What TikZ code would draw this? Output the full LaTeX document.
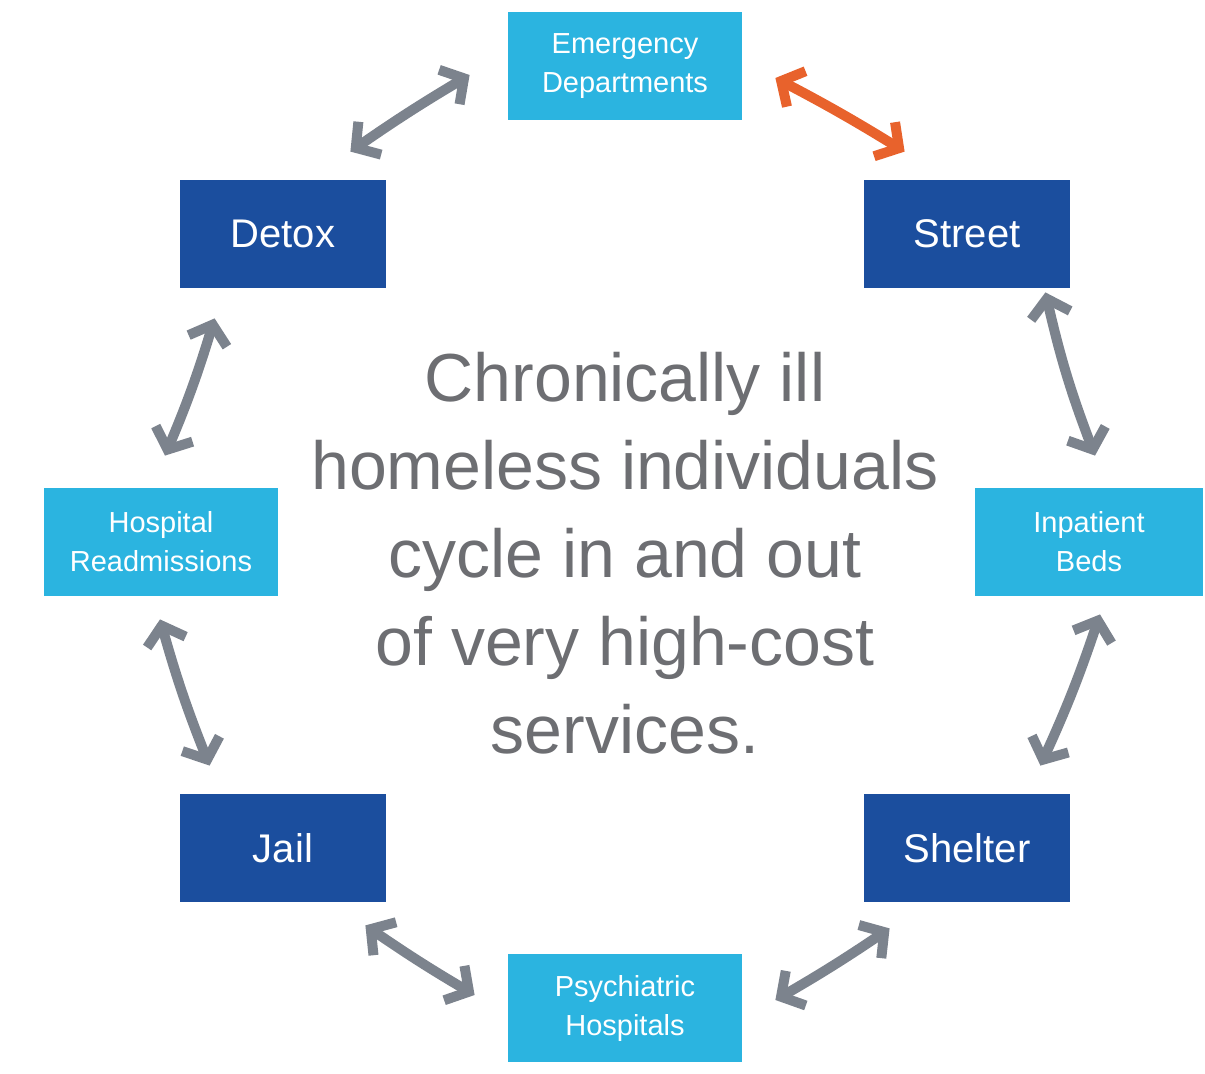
\documentclass[tikz,border=0pt]{standalone}
\usepackage{fontspec}
\setmainfont{Liberation Sans}
\usetikzlibrary{arrows.meta}

\definecolor{darkbox}{HTML}{1B4E9E}
\definecolor{lightbox}{HTML}{2BB4E0}
\definecolor{arrowgray}{HTML}{7C838D}
\definecolor{hotarrow}{HTML}{E8622C}
\definecolor{textgray}{HTML}{6D6E72}

\begin{document}
\begin{tikzpicture}[
  x=0.5pt, y=-0.5pt,
  dark/.style={rectangle, fill=darkbox, text=white, font=\fontsize{20}{24}\selectfont,
    minimum width=103pt, minimum height=54pt, inner sep=0pt},
  light/.style={rectangle, fill=lightbox, text=white, align=center,
    font=\fontsize{14.5}{19.5}\selectfont, minimum width=117pt, minimum height=54pt, inner sep=0pt},
  link/.style={draw=arrowgray, line width=5pt,
    {Straight Barb[length=8.5pt,width=20pt]}-{Straight Barb[length=8.5pt,width=20pt]}},
  hot/.style={link, draw=hotarrow}
]
\useasboundingbox (0,0) rectangle (1205,1074);

% the eight services
\node[light] (ed) at (625,66) {Emergency\\Departments};
\node[dark] (detox) at (283,234) {Detox};
\node[dark] (street) at (967,234) {Street};
\node[light] (readmit) at (161,542) {Hospital\\Readmissions};
\node[light, minimum width=114pt] (inpatient) at (1089,542) {Inpatient\\Beds};
\node[dark] (jail) at (283,848) {Jail};
\node[dark] (shelter) at (967,848) {Shelter};
\node[light] (psych) at (625,1008) {Psychiatric\\Hospitals};

\node[text=textgray, align=center, font=\fontsize{34}{44}\selectfont] (msg) at (625,553)
  {Chronically ill\\homeless individuals\\cycle in and out\\of very high-cost\\services.};

% cycle between them
\draw[link] ([shift={(-36,-28)}]detox.north east) to[bend left=2] ([shift={(-38,9)}]ed.west);
\draw[hot] ([shift={(33,12)}]ed.east) to[bend left=2] ([shift={(41,-28)}]street.north west);
\draw[link] ([shift={(-25,4)}]street.south east) to[bend right=4] ([shift={(6,-32)}]inpatient.north);
\draw[link] ([shift={(11,18)}]inpatient.south) to[bend left=3] ([shift={(-30,-28)}]shelter.north east);
\draw[link] ([shift={(26,26)}]shelter.south west) to[bend left=2] ([shift={(33,-8)}]psych.east);
\draw[link] ([shift={(-33,-13)}]psych.west) to[bend left=2] ([shift={(-21,23)}]jail.south east);
\draw[link] ([shift={(30,-28)}]jail.north west) to[bend left=3] ([shift={(-1,23)}]readmit.south);
\draw[link] ([shift={(4,-32)}]readmit.north) to[bend right=3] ([shift={(35,30)}]detox.south west);
\end{tikzpicture}
\end{document}
